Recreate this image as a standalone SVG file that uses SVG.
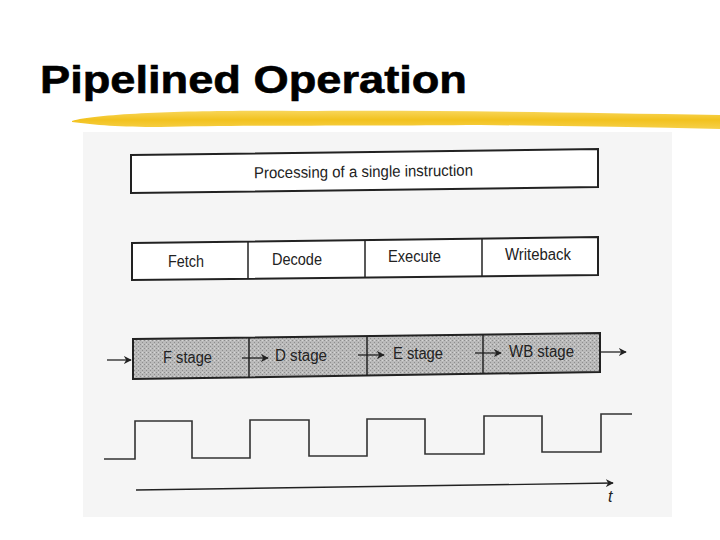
<svg xmlns="http://www.w3.org/2000/svg" width="720" height="540" viewBox="0 0 720 540">
  <style>
    .box { fill: #ffffff; stroke: #222222; stroke-width: 2; }
    .stage { fill: url(#stipple); stroke: #222222; stroke-width: 2; }
    .div { stroke: #222222; stroke-width: 1.5; }
    .lbl { font-family: "Liberation Sans", Arial, sans-serif; font-size: 16px; fill: #222222; }
    .arr { stroke: #222222; stroke-width: 1.3; fill: none; marker-end: url(#ah); }
    .clk { stroke: #333333; stroke-width: 1.6; fill: none; }
  </style>
  <defs>
    <marker id="ah" viewBox="0 0 10 10" refX="9" refY="5" markerWidth="8" markerHeight="8" markerUnits="userSpaceOnUse" orient="auto">
      <path d="M0,0 L10,5 L0,10 L3,5 Z" fill="#222222"/>
    </marker>
    <pattern id="stipple" width="4" height="4" patternUnits="userSpaceOnUse">
      <rect width="4" height="4" fill="#bababa"/>
      <rect x="0" y="0" width="1" height="1" fill="#8e8e8e"/>
      <rect x="2" y="2" width="1" height="1" fill="#8e8e8e"/>
      <rect x="2" y="0" width="1" height="1" fill="#d6d6d6"/>
    </pattern>
    <linearGradient id="yel" x1="0" y1="0" x2="0" y2="1">
      <stop offset="0" stop-color="#f8d65a"/>
      <stop offset="0.5" stop-color="#f2c21e"/>
      <stop offset="1" stop-color="#f6d04a"/>
    </linearGradient>
  </defs>

  <rect width="720" height="540" fill="#ffffff"/>

  <g id="title">
    <text x="40" y="93" font-family="'Liberation Sans', Arial, sans-serif" font-size="38" font-weight="bold" fill="#000000" stroke="#000000" stroke-width="0.6" textLength="427" lengthAdjust="spacingAndGlyphs">Pipelined Operation</text>
    <path d="M72,121 C100,113 200,110 300,111 C420,110 560,112 720,115 L720,129 C640,127 560,126 480,125 C380,126 250,125 160,127 C120,127 95,125 72,122 Z" fill="url(#yel)"/>
  </g>

  <rect id="scan" x="83" y="132" width="589" height="385" fill="#f5f5f5"/>

  <g id="single">
    <polygon class="box" points="131,155 598,149 598,187 131,193"/>
    <text class="lbl" x="363.5" y="177" text-anchor="middle" textLength="219" lengthAdjust="spacingAndGlyphs" transform="rotate(-0.7 363.5 177)">Processing of a single instruction</text>
  </g>

  <g id="phases">
    <polygon class="box" points="132,243 598,237 598,275 132,280"/>
    <line class="div" x1="248" y1="241.5" x2="248" y2="279"/>
    <line class="div" x1="365" y1="240" x2="365" y2="277.5"/>
    <line class="div" x1="482" y1="238.5" x2="482" y2="276.5"/>
    <text class="lbl" x="186" y="267" text-anchor="middle" textLength="36" lengthAdjust="spacingAndGlyphs">Fetch</text>
    <text class="lbl" x="297" y="265" text-anchor="middle" textLength="50" lengthAdjust="spacingAndGlyphs">Decode</text>
    <text class="lbl" x="414.5" y="262" text-anchor="middle" textLength="53" lengthAdjust="spacingAndGlyphs">Execute</text>
    <text class="lbl" x="538" y="260" text-anchor="middle" textLength="66" lengthAdjust="spacingAndGlyphs">Writeback</text>
  </g>

  <g id="stages">
    <polygon class="stage" points="133,339 600,333 600,372 133,379"/>
    <line class="div" x1="249" y1="337.5" x2="249" y2="377.3"/>
    <line class="div" x1="367" y1="336" x2="367" y2="375.5"/>
    <line class="div" x1="483" y1="334.5" x2="483" y2="374"/>
    <text class="lbl" x="187.5" y="363" text-anchor="middle" textLength="49" lengthAdjust="spacingAndGlyphs">F stage</text>
    <text class="lbl" x="301" y="361" text-anchor="middle" textLength="52" lengthAdjust="spacingAndGlyphs">D stage</text>
    <text class="lbl" x="418" y="359" text-anchor="middle" textLength="50" lengthAdjust="spacingAndGlyphs">E stage</text>
    <text class="lbl" x="541.5" y="357" text-anchor="middle" textLength="65" lengthAdjust="spacingAndGlyphs">WB stage</text>
  </g>

  <g id="connectors">
    <line class="arr" x1="107" y1="360" x2="131" y2="360"/>
    <line class="arr" x1="242" y1="358" x2="268" y2="358"/>
    <line class="arr" x1="358" y1="355" x2="384" y2="355"/>
    <line class="arr" x1="475" y1="353" x2="501" y2="353"/>
    <line class="arr" x1="601" y1="352" x2="626" y2="352"/>
  </g>

  <g id="clock">
    <polyline class="clk" points="104,459 135,459 135,421 192,421 192,458 250,458 250,420 309,420 309,456 367,456 367,419 425,419 425,454 484,454 484,416 542,416 542,452 601,452 601,414 632,414"/>
  </g>

  <g id="time-axis">
    <line class="arr" x1="136" y1="490" x2="613" y2="483"/>
    <text x="608" y="502" font-family="'Liberation Sans', Arial, sans-serif" font-size="16" font-style="italic" fill="#222222">t</text>
  </g>
</svg>
